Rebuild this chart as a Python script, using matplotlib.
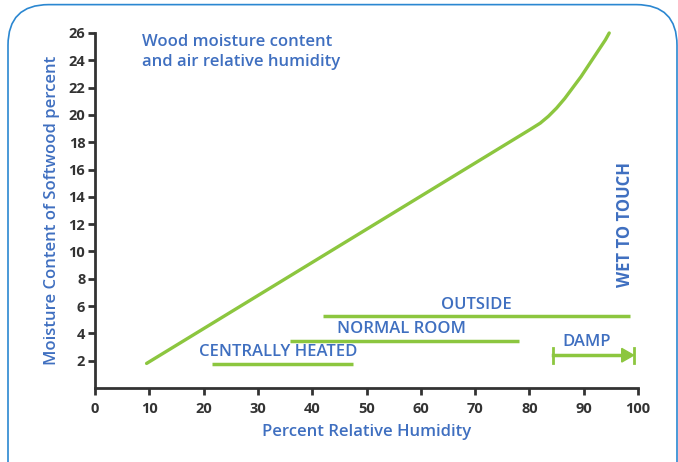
import matplotlib
matplotlib.use('Agg')
import matplotlib.pyplot as plt
from matplotlib.patches import FancyBboxPatch, Polygon

plt.rcParams['font.family'] = ['Open Sans', 'DejaVu Sans']

# main curve: relative humidity vs moisture content
rh = [9.5, 80, 82, 83.5, 85, 86.5, 88, 89.5, 91, 92.5, 94, 94.7]
mc = [1.8, 18.9, 19.4, 19.9, 20.5, 21.2, 22.0, 22.8, 23.7, 24.6, 25.5, 26.0]

# ranges
ranges = ['CENTRALLY HEATED', 'NORMAL ROOM', 'OUTSIDE']
range_start = [21.5, 36.0, 42.0]
range_end = [47.5, 78.0, 98.5]
range_level = [1.75, 3.45, 5.25]

damp_start = 84.3
damp_end = 99.2
damp_level = 2.4

GREEN = '#8cc63f'
BLUE = '#3f6fc0'
DARK = '#333333'

fig = plt.figure(figsize=(6.78, 4.62), dpi=100)

# rounded border
box = FancyBboxPatch((8 / 678, -0.2), 669 / 678, 1.19, transform=fig.transFigure,
                     boxstyle='round,pad=0,rounding_size=0.06', fill=False,
                     edgecolor='#2b87d1', lw=1.2, mutation_aspect=678 / 462)
fig.patches.append(box)

ax = fig.add_axes([95 / 678, 74 / 462, 543 / 678, 355 / 462])
ax.set_xlim(0, 100)
ax.set_ylim(0, 26)
ax.patch.set_alpha(0)

for s in ['top', 'right']:
    ax.spines[s].set_visible(False)
for s in ['left', 'bottom']:
    ax.spines[s].set_linewidth(2)
    ax.spines[s].set_color(DARK)

ax.set_xticks(range(0, 101, 10))
ax.set_yticks(range(2, 27, 2))
ax.tick_params(colors=DARK, width=2, length=5, labelsize=10.5)
for lab in ax.get_xticklabels() + ax.get_yticklabels():
    lab.set_fontweight('bold')
ax.xaxis.set_tick_params(pad=5)
ax.yaxis.set_tick_params(pad=2)

ax.plot(rh, mc, color=GREEN, lw=2.4, clip_on=False, solid_capstyle='round',
        solid_joinstyle='round')

for name, x0, x1, y in zip(ranges, range_start, range_end, range_level):
    ax.plot([x0, x1], [y, y], color=GREEN, lw=2.5, solid_capstyle='butt')

ax.text(33.8, 2.6, 'CENTRALLY HEATED', color=BLUE, ha='center', va='center',
        fontsize=12, fontweight='semibold')
ax.text(56.5, 4.35, 'NORMAL ROOM', color=BLUE, ha='center', va='center',
        fontsize=12, fontweight='semibold')
ax.text(70.3, 6.05, 'OUTSIDE', color=BLUE, ha='center', va='center',
        fontsize=12, fontweight='semibold')

# damp arrow
ax.plot([damp_start, damp_end - 1.5], [damp_level, damp_level], color=GREEN, lw=2.5)
ax.plot([damp_start, damp_start], [damp_level - 0.55, damp_level + 0.55], color=GREEN, lw=2)
ax.plot([damp_end, damp_end], [damp_level - 0.55, damp_level + 0.55], color=GREEN, lw=2)
ax.add_patch(Polygon([[damp_end - 2.2, damp_level - 0.5], [damp_end - 2.2, damp_level + 0.5],
                      [damp_end, damp_level]], closed=True, color=GREEN))
ax.text(90.6, 3.4, 'DAMP', color=BLUE, ha='center', va='center',
        fontsize=12, fontweight='semibold')

ax.text(97.6, 12.0, 'WET TO TOUCH', color=BLUE, ha='center', va='center',
        rotation=90, fontsize=12, fontweight='bold')

ax.text(8.6, 25.9, 'Wood moisture content\nand air relative humidity', color=BLUE,
        ha='left', va='top', fontsize=12, fontweight='semibold', linespacing=1.3)

ax.set_xlabel('Percent Relative Humidity', color=BLUE, fontsize=12,
              fontweight='semibold', labelpad=6)
ax.set_ylabel('Moisture Content of Softwood percent', color=BLUE, fontsize=12,
              fontweight='semibold', labelpad=6)

fig.savefig('out.png', dpi=100)
